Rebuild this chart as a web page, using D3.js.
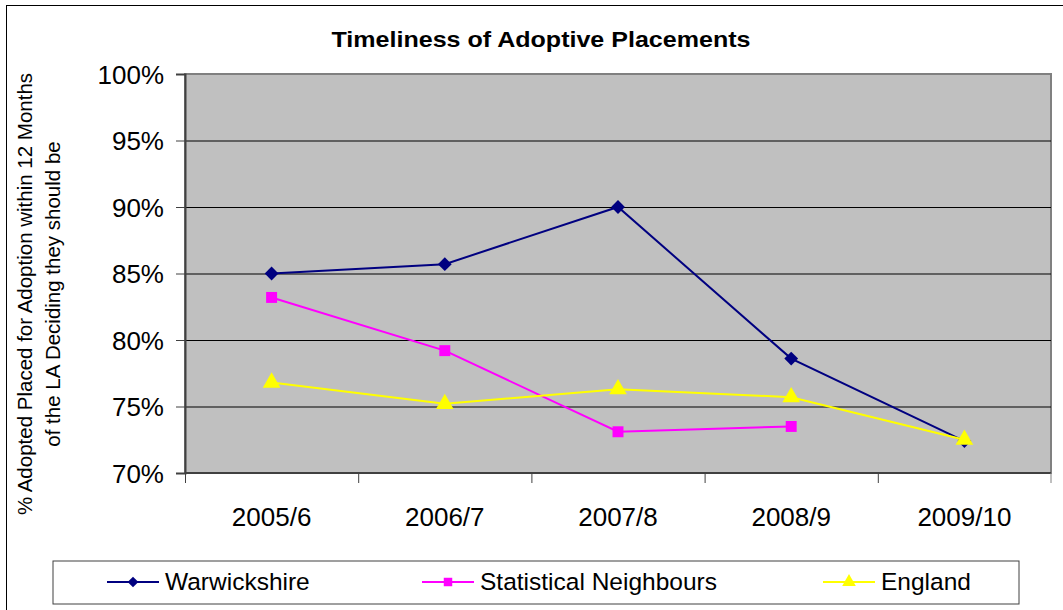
<!DOCTYPE html>
<html>
<head>
<meta charset="utf-8">
<script src="https://cdn.jsdelivr.net/npm/d3@7"></script>
<style>
  body { margin: 0; background: #fff; }
  svg { display: block; font-family: "Liberation Sans", Arial, sans-serif; }
</style>
</head>
<body>
<div id="chart"></div>
<script>
// data
var years = ["2005/6", "2006/7", "2007/8", "2008/9", "2009/10"]
var warwickshire = [85.0, 85.7, 90.0, 78.6, 72.4]
var statNeighbours = [83.2, 79.2, 73.1, 73.5, null]
var england = [76.8, 75.2, 76.3, 75.7, 72.5]
var yTicks = [70, 75, 80, 85, 90, 95, 100]

var seriesNames = ["Warwickshire", "Statistical Neighbours", "England"]
var seriesColors = ["#000080", "#ff00ff", "#ffff00"]
// diamond = square turned 45deg
var seriesShapes = [d3.symbolSquare, d3.symbolSquare, d3.symbolTriangle]
var seriesRotate = [45, 0, 0]
var symbolSizes = [95, 120, 135]

var width = 1063
var height = 610
var plotLeft = 185, plotRight = 1051, plotTop = 74, plotBottom = 473

var svg = d3.select("#chart").append("svg")
  .attr("width", width)
  .attr("height", height)

// outer chart border (only left/top fall inside the window)
svg.append("rect")
  .attr("x", 6.5).attr("y", 5.5)
  .attr("width", 1100).attr("height", 700)
  .attr("fill", "none").attr("stroke", "#000").attr("stroke-width", 1)

var x = d3.scaleBand().domain(years).range([plotLeft, plotRight])
var y = d3.scaleLinear().domain([70, 100]).range([plotBottom, plotTop])

// plot background
svg.append("rect")
  .attr("x", plotLeft).attr("y", plotTop)
  .attr("width", plotRight - plotLeft).attr("height", plotBottom - plotTop)
  .attr("fill", "#c0c0c0")
  .attr("stroke", "#808080").attr("stroke-width", 2)

// gridlines
svg.selectAll(".grid")
  .data(yTicks.filter(function(t) { return t > 70 && t < 100 }))
  .enter().append("line")
  .attr("x1", plotLeft).attr("x2", plotRight)
  .attr("y1", function(d) { return y(d) + 0.5 })
  .attr("y2", function(d) { return y(d) + 0.5 })
  .attr("stroke", "#000").attr("stroke-width", 1)

// y axis
var yAxis = d3.axisLeft(y)
  .tickValues(yTicks)
  .tickSize(9)
  .tickPadding(12)
  .tickFormat(function(d) { return d + "%" })

var yg = svg.append("g")
  .attr("transform", "translate(" + plotLeft + ",0)")
  .call(yAxis)
yg.select(".domain").attr("stroke", "#404040").attr("stroke-width", 2)
yg.selectAll(".tick line").attr("stroke", "#404040")
yg.selectAll("text")
  .attr("font-size", 26).attr("fill", "#000")
  .attr("font-family", "Liberation Sans, Arial, sans-serif")
  .attr("dy", "0.36em")

// x axis: ticks between categories, labels centred in band
var xg = svg.append("g")
  .attr("transform", "translate(0," + plotBottom + ")")
xg.append("line")
  .attr("x1", plotLeft).attr("x2", plotRight)
  .attr("stroke", "#404040").attr("stroke-width", 2)
xg.selectAll(".xtick")
  .data(years)
  .enter().append("line")
  .attr("x1", function(d) { return x(d) + 0.5 })
  .attr("x2", function(d) { return x(d) + 0.5 })
  .attr("y1", 0).attr("y2", 10)
  .attr("stroke", "#404040")
xg.append("line")
  .attr("x1", plotRight).attr("x2", plotRight)
  .attr("y1", 0).attr("y2", 10)
  .attr("stroke", "#808080")
xg.selectAll(".xlabel")
  .data(years)
  .enter().append("text")
  .attr("x", function(d) { return x(d) + x.bandwidth() / 2 })
  .attr("y", 53)
  .attr("text-anchor", "middle")
  .attr("font-size", 26)
  .text(function(d) { return d })

// title
svg.append("text")
  .attr("x", 541).attr("y", 47)
  .attr("text-anchor", "middle")
  .attr("font-size", 22)
  .attr("font-weight", "bold")
  .attr("textLength", 419)
  .attr("lengthAdjust", "spacingAndGlyphs")
  .text("Timeliness of Adoptive Placements")

// y axis title
var yTitle = svg.append("text")
  .attr("transform", "translate(0,294) rotate(-90)")
  .attr("text-anchor", "middle")
  .attr("font-size", 20.5)
yTitle.append("tspan").attr("x", 0).attr("y", 32)
  .text("% Adopted Placed for Adoption within 12 Months")
yTitle.append("tspan").attr("x", 0).attr("y", 60)
  .text("of the LA Deciding they should be")

// series
var allSeries = [warwickshire, statNeighbours, england]
var cx = function(i) { return x(years[i]) + x.bandwidth() / 2 }

var line = d3.line()
  .defined(function(d) { return d != null })
  .x(function(d, i) { return cx(i) })
  .y(function(d) { return y(d) })

allSeries.forEach(function(values, s) {
  svg.append("path")
    .datum(values)
    .attr("d", line)
    .attr("fill", "none")
    .attr("stroke", seriesColors[s])
    .attr("stroke-width", 2)

  svg.selectAll(".m" + s)
    .data(values.map(function(v, i) { return {v: v, i: i} }).filter(function(d) { return d.v != null }))
    .enter().append("path")
    .attr("transform", function(d) {
      return "translate(" + cx(d.i) + "," + y(d.v) + ") rotate(" + seriesRotate[s] + ")"
    })
    .attr("d", d3.symbol().type(seriesShapes[s]).size(symbolSizes[s]))
    .attr("fill", seriesColors[s])
})

// legend
svg.append("rect")
  .attr("x", 53).attr("y", 561)
  .attr("width", 966).attr("height", 43)
  .attr("fill", "#fff").attr("stroke", "#404040").attr("stroke-width", 1)

var legendX = [107, 422, 823]
seriesNames.forEach(function(name, s) {
  var g = svg.append("g").attr("transform", "translate(" + legendX[s] + ",582)")
  g.append("line")
    .attr("x1", 0).attr("x2", 52)
    .attr("stroke", seriesColors[s]).attr("stroke-width", 2)
  g.append("path")
    .attr("transform", "translate(26,0) rotate(" + seriesRotate[s] + ")")
    .attr("d", d3.symbol().type(seriesShapes[s]).size(symbolSizes[s] * 0.6))
    .attr("fill", seriesColors[s])
  g.append("text")
    .attr("x", 58).attr("y", 8)
    .attr("font-size", 24.5)
    .text(name)
})
</script>
</body>
</html>
